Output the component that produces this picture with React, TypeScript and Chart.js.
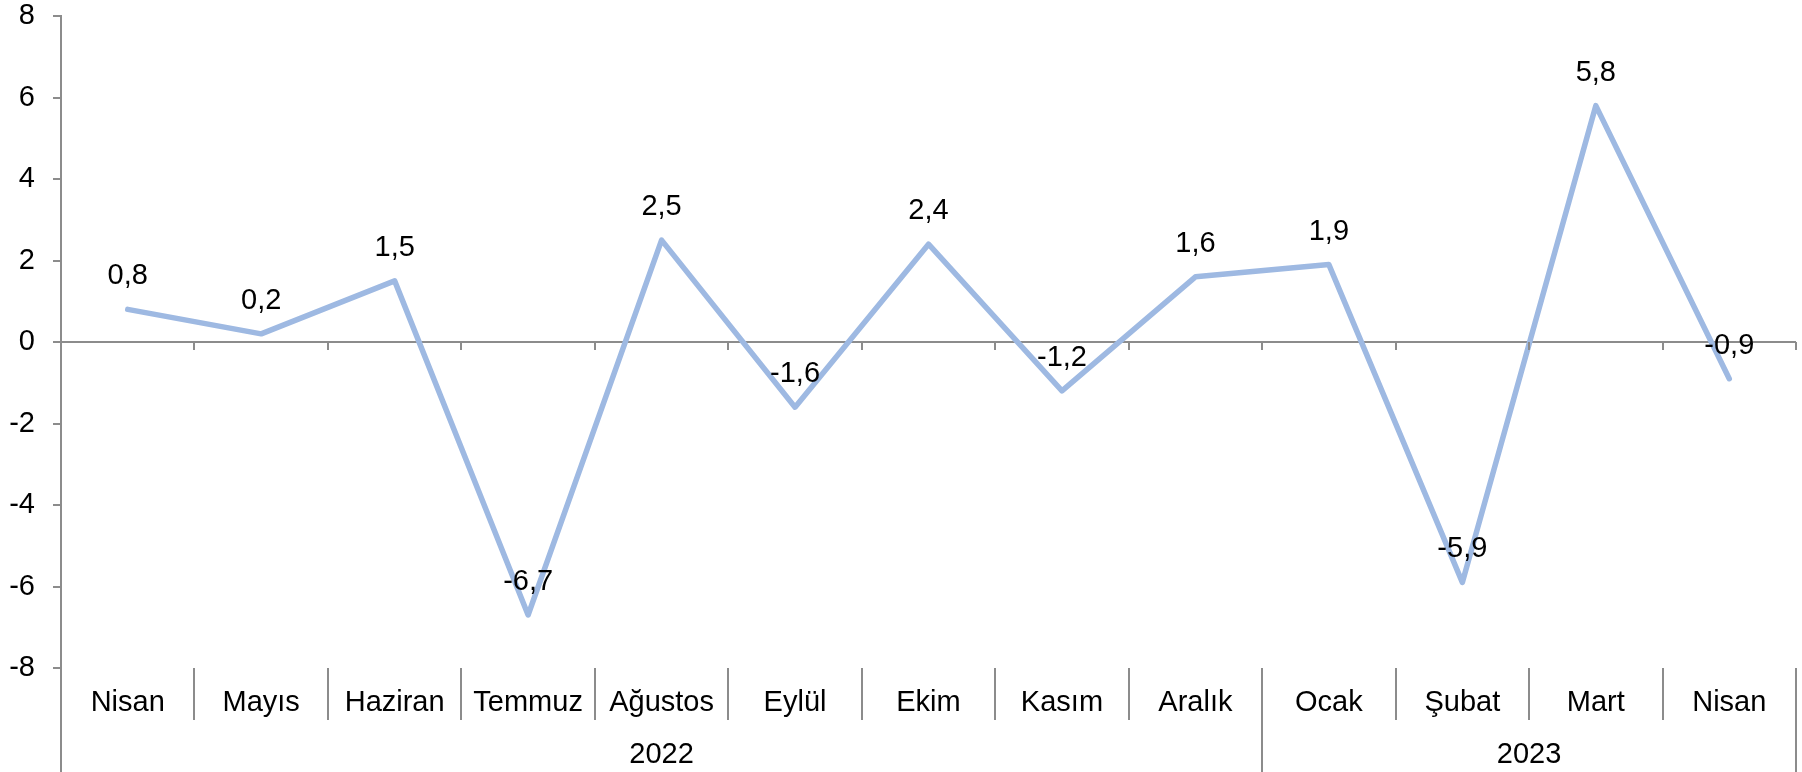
import React, { useEffect, useRef } from "react";
import { Chart, registerables } from "chart.js";

Chart.register(...registerables);

const months = ["Nisan", "Mayıs", "Haziran", "Temmuz", "Ağustos", "Eylül", "Ekim", "Kasım", "Aralık", "Ocak", "Şubat", "Mart", "Nisan"];
const values = [0.8, 0.2, 1.5, -6.7, 2.5, -1.6, 2.4, -1.2, 1.6, 1.9, -5.9, 5.8, -0.9];
const years = ["2022", "2023"];
const yearSpans = [9, 4];

const FONT = "'Liberation Sans', Arial, sans-serif";
const AXIS = "#8c8c8c";
const FS = 29;

const fmt = (v: number) => v.toFixed(1).replace(".", ",");

const decor = {
  id: "decor",
  afterDraw(chart: any) {
    const { ctx, chartArea } = chart;
    const xs = chart.scales.x;
    const ys = chart.scales.y;
    const n = months.length;
    const w = xs.getPixelForValue(1) - xs.getPixelForValue(0);
    const bnd = (i: number) => xs.getPixelForValue(i) - w / 2;
    const y0 = ys.getPixelForValue(0);
    const H = chart.height;
    ctx.save();
    ctx.strokeStyle = AXIS;
    ctx.lineWidth = 2;
    ctx.beginPath();
    ctx.moveTo(chartArea.left, chartArea.bottom);
    ctx.lineTo(chartArea.left, H);
    const yearB = new Set<number>();
    let acc = 0;
    yearSpans.forEach((s) => { acc += s; yearB.add(acc); });
    for (let i = 1; i <= n; i++) {
      const x = Math.round(bnd(i));
      ctx.moveTo(x, y0);
      ctx.lineTo(x, y0 + 8);
      ctx.moveTo(x, chartArea.bottom);
      ctx.lineTo(x, yearB.has(i) ? H : chartArea.bottom + 52);
    }
    ctx.stroke();
    ctx.fillStyle = "#000";
    ctx.font = `${FS}px ${FONT}`;
    ctx.textAlign = "center";
    ctx.textBaseline = "middle";
    let start = 0;
    years.forEach((yr, k) => {
      const end = start + yearSpans[k];
      const cx = (bnd(start) + bnd(end)) / 2;
      ctx.fillText(yr, cx, chartArea.bottom + 87);
      start = end;
    });
    const meta = chart.getDatasetMeta(0);
    meta.data.forEach((pt: any, i: number) => {
      ctx.fillText(fmt(values[i]), pt.x, pt.y - 33);
    });
    ctx.restore();
  },
};

export default function App() {
  const ref = useRef<HTMLCanvasElement>(null);
  useEffect(() => {
    document.body.style.margin = "0";
    const chart = new Chart(ref.current!, {
      type: "line",
      data: {
        labels: months,
        datasets: [
          {
            data: values,
            borderColor: "#9EB9E2",
            borderWidth: 5.5,
            pointRadius: 0,
            tension: 0,
            borderCapStyle: "round",
            borderJoinStyle: "round",
          },
        ],
      },
      options: {
        animation: false,
        responsive: false,
        devicePixelRatio: 1,
        layout: { padding: { top: 16, right: 6, left: 0, bottom: 0 } },
        plugins: { legend: { display: false }, tooltip: { enabled: false } },
        scales: {
          x: {
            type: "category",
            offset: true,
            grid: { display: false, drawTicks: false },
            border: { display: false },
            ticks: { color: "#000", font: { family: FONT, size: FS }, padding: 18, maxRotation: 0, autoSkip: false },
            afterFit: (s: any) => { s.height = 104; s.paddingLeft = 0; s.paddingRight = 0; },
          },
          y: {
            min: -8,
            max: 8,
            ticks: { stepSize: 2, color: "#000", font: { family: FONT, size: FS }, padding: 18 },
            grid: {
              color: (c: any) => (c.tick && c.tick.value === 0 ? AXIS : "rgba(0,0,0,0)"),
              lineWidth: 2,
              tickColor: AXIS,
              tickLength: 8,
              tickWidth: 2,
            },
            border: { display: true, color: AXIS, width: 2 },
            afterFit: (s: any) => { s.width = 61; s.paddingTop = 0; s.paddingBottom = 0; },
          },
        },
      },
      plugins: [decor],
    });
    return () => chart.destroy();
  }, []);
  return (
    <div style={{ position: "absolute", left: 0, top: 0, width: 1802, height: 772 }}>
      <canvas ref={ref} width={1802} height={772} />
    </div>
  );
}
